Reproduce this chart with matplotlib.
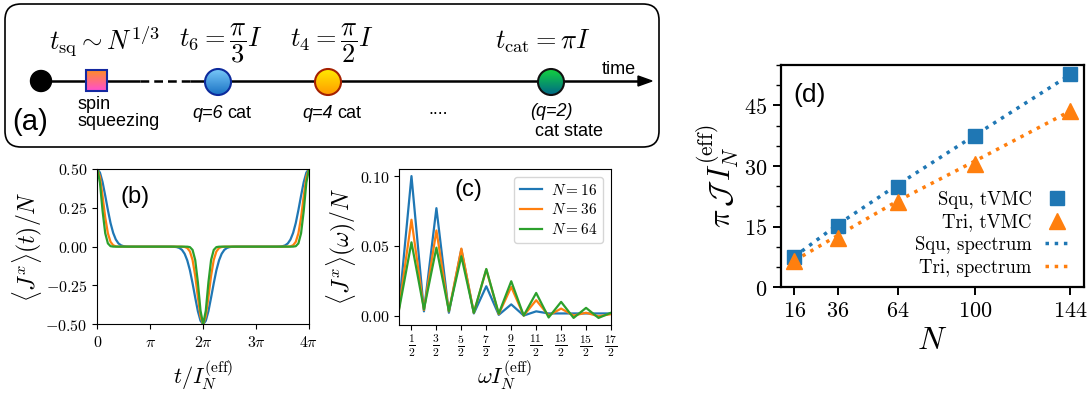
import numpy as np
import matplotlib
matplotlib.use("Agg")
import matplotlib.pyplot as plt
from matplotlib.patches import FancyBboxPatch, Circle, Rectangle, Polygon
from matplotlib.colors import LinearSegmentedColormap
from matplotlib.ticker import MultipleLocator

plt.rcParams['mathtext.fontset'] = 'cm'
plt.rcParams['font.family'] = ['DejaVu Serif']

W, H = 1089, 396

# ---------------- data ----------------
# panel (b): t in units of pi
t_b = [0, 0.05, 0.1, 0.15, 0.2, 0.25, 0.3, 0.35, 0.4, 0.45, 0.5, 0.55, 0.6,
       0.8, 1.0, 1.2,
       1.4, 1.45, 1.5, 1.55, 1.6, 1.65, 1.7, 1.75, 1.8, 1.85, 1.9, 1.95, 2.0,
       2.05, 2.1, 2.15, 2.2, 2.25, 2.3, 2.35, 2.4, 2.45, 2.5, 2.55, 2.6,
       2.8, 3.0, 3.2,
       3.4, 3.45, 3.5, 3.55, 3.6, 3.65, 3.7, 3.75, 3.8, 3.85, 3.9, 3.95, 4.0]
jx_t_16 = [0.5, 0.477, 0.415, 0.328, 0.236, 0.152, 0.0885, 0.0458, 0.0208, 0.0082, 0.0028, 0.0008, 0.0002,
           0, 0, 0,
           -0.0002, -0.0008, -0.0028, -0.0082, -0.0208, -0.0458, -0.0885, -0.152, -0.236, -0.328, -0.415, -0.477, -0.5,
           -0.477, -0.415, -0.328, -0.236, -0.152, -0.0885, -0.0458, -0.0208, -0.0082, -0.0028, -0.0008, -0.0002,
           0, 0, 0,
           0.0002, 0.0008, 0.0028, 0.0082, 0.0208, 0.0458, 0.0885, 0.152, 0.236, 0.328, 0.415, 0.477, 0.5]
jx_t_36 = [0.5, 0.449, 0.324, 0.188, 0.086, 0.031, 0.009, 0.002, 0.0003, 0, 0, 0, 0,
           0, 0, 0,
           0, 0, 0, 0, -0.0003, -0.002, -0.009, -0.031, -0.086, -0.188, -0.324, -0.449, -0.5,
           -0.449, -0.324, -0.188, -0.086, -0.031, -0.009, -0.002, -0.0003, 0, 0, 0, 0,
           0, 0, 0,
           0, 0, 0, 0, 0.0003, 0.002, 0.009, 0.031, 0.086, 0.188, 0.324, 0.449, 0.5]
jx_t_64 = [0.5, 0.412, 0.229, 0.086, 0.021, 0.003, 0.0003, 0, 0, 0, 0, 0, 0,
           0, 0, 0,
           0, 0, 0, 0, 0, 0, -0.0003, -0.003, -0.021, -0.086, -0.229, -0.412, -0.5,
           -0.412, -0.229, -0.086, -0.021, -0.003, -0.0003, 0, 0, 0, 0, 0, 0,
           0, 0, 0,
           0, 0, 0, 0, 0, 0, 0.0003, 0.003, 0.021, 0.086, 0.229, 0.412, 0.5]
t_ticks = [0, 1, 2, 3, 4]
t_ticklabels = ['$0$', r'$\pi$', r'$2\pi$', r'$3\pi$', r'$4\pi$']

# panel (c)
omega = [0, 0.5, 1.0, 1.5, 2.0, 2.5, 3.0, 3.5, 4.0, 4.5, 5.0, 5.5, 6.0, 6.5, 7.0, 7.5, 8.0, 8.5]
jx_w_16 = [0.006, 0.100, 0.003, 0.077, 0.002, 0.0475, 0.0015, 0.021, 0.0005, 0.008, 0.0, 0.003,
           0.0015, 0.0015, 0.0015, 0.0015, 0.0015, 0.0015]
jx_w_36 = [0.005, 0.0687, 0.004, 0.061, 0.003, 0.048, 0.002, 0.033, 0.001, 0.0205, 0.0, 0.011,
           0.0, 0.005, 0.0, 0.002, -0.0005, 0.001]
jx_w_64 = [0.004, 0.0525, 0.0045, 0.0487, 0.0033, 0.0425, 0.002, 0.0334, 0.0014, 0.0246, 0.0, 0.0162,
           -0.0014, 0.0098, -0.0017, 0.0055, -0.0017, 0.002]
w_ticks = [0.5, 1.5, 2.5, 3.5, 4.5, 5.5, 6.5, 7.5, 8.5]
w_ticklabels = [r'$\frac{1}{2}$', r'$\frac{3}{2}$', r'$\frac{5}{2}$', r'$\frac{7}{2}$', r'$\frac{9}{2}$',
                r'$\frac{11}{2}$', r'$\frac{13}{2}$', r'$\frac{15}{2}$', r'$\frac{17}{2}$']
series_labels = [r'$N=16$', r'$N=36$', r'$N=64$']

# panel (d)
N_vals = [16, 36, 64, 100, 144]
squ_tvmc = [7.4, 15.1, 24.7, 37.4, 52.8]
tri_tvmc = [6.4, 12.3, 21.0, 30.6, 43.6]
squ_spec = [7.6, 15.5, 25.4, 37.7, 52.6]
tri_spec = [6.6, 12.8, 21.4, 31.3, 43.6]
d_labels = ['Squ, tVMC', 'Tri, tVMC', 'Squ, spectrum', 'Tri, spectrum']

C_BLUE, C_ORANGE, C_GREEN = '#1f77b4', '#ff7f0e', '#2ca02c'

fig = plt.figure(figsize=(W / 100, H / 100), dpi=100)


def frac(x, y):
    return x / W, 1 - y / H


def axrect(l, r, t, b):
    return [l / W, 1 - b / H, (r - l) / W, (b - t) / H]


# ---------------- panel (a): schematic in pixel coordinates ----------------
ax0 = fig.add_axes([0, 0, 1, 1], zorder=-1)
ax0.set_axis_off()

box = FancyBboxPatch((5, 4), 654, 143, boxstyle='round,pad=0,rounding_size=16',
                     fc='white', ec='black', lw=1.2)
ax0.add_patch(box)

yl = 81
ax0.plot([41, 140], [yl, yl], color='black', lw=1.8, solid_capstyle='butt', zorder=2)
ax0.plot([140, 190], [yl, yl], color='black', lw=1.8, dashes=(3.5, 2), zorder=2)
ax0.plot([190, 640], [yl, yl], color='black', lw=1.8, solid_capstyle='butt', zorder=2)
ax0.add_patch(Polygon([[638, yl - 5], [652, yl], [638, yl + 5]], closed=True, fc='black', ec='black', zorder=3))


def grad_patch(patch, c_top, c_bot, extent):
    cmap = LinearSegmentedColormap.from_list('g', [c_top, c_bot])
    grad = np.linspace(0, 1, 64).reshape(-1, 1)
    im = ax0.imshow(grad, cmap=cmap, extent=extent, origin='upper', aspect='auto',
                    interpolation='bilinear', zorder=4)
    im.set_clip_path(patch)


ax0.add_patch(Circle((41, yl), 10.5, fc='black', ec='black', zorder=4))

sq = Rectangle((86, 70), 21, 21, fc='none', ec='#1428a0', lw=1.5, zorder=5)
ax0.add_patch(sq)
grad_patch(Rectangle((86, 70), 21, 21, transform=ax0.transData), '#ff8c28', '#ff4fd0', (86, 107, 91, 70))

for cx, ct, cb, ce in [(218, '#78c8f8', '#1a72c4', '#0c2a9c'),
                       (328, '#ffea00', '#ff9a00', '#a52000'),
                       (551, '#12d23e', '#006888', '#111111')]:
    c = Circle((cx, yl + 1), 13, fc='none', ec=ce, lw=1.5, zorder=5)
    ax0.add_patch(c)
    clip = Circle((cx, yl + 1), 13, transform=ax0.transData)
    grad_patch(clip, ct, cb, (cx - 13, cx + 13, yl + 14, yl - 12))

ax0.text(105, 41, r'$t_{\rm sq}\sim N^{1/3}$', fontsize=19, ha='center', va='center')
ax0.text(221, 43, r'$t_6=\dfrac{\pi}{3}I$', fontsize=19, ha='center', va='center')
ax0.text(332, 43, r'$t_4=\dfrac{\pi}{2}I$', fontsize=19, ha='center', va='center')
ax0.text(543, 41, r'$t_{\rm cat}=\pi I$', fontsize=19, ha='center', va='center')
sans = 'Liberation Sans'
fs_a = 13
ax0.text(619, 69, 'time', fontsize=13, family=sans, ha='center', va='center')
ax0.text(30, 122, '(a)', fontsize=21, family=sans, ha='center', va='center')
ax0.text(78, 113, 'spin\nsqueezing', fontsize=fs_a, family=sans, ha='left', va='center', linespacing=1.05)
ax0.text(223, 113, 'q=6', fontsize=fs_a, family=sans, style='italic', ha='right', va='center')
ax0.text(227, 113, 'cat', fontsize=fs_a, family=sans, ha='left', va='center')
ax0.text(333, 113, 'q=4', fontsize=fs_a, family=sans, style='italic', ha='right', va='center')
ax0.text(337, 113, 'cat', fontsize=fs_a, family=sans, ha='left', va='center')
ax0.text(438, 109, '....', fontsize=fs_a, family=sans, ha='center', va='center')
ax0.text(551, 112, '(q=2)', fontsize=fs_a, family=sans, style='italic', ha='center', va='center')
ax0.text(569, 132, 'cat state', fontsize=fs_a, family=sans, ha='center', va='center')

ax0.set_xlim(0, W)
ax0.set_ylim(H, 0)

# ---------------- panel (b) ----------------
axb = fig.add_axes(axrect(97.3, 309, 169, 324.3))
for y, c in [(jx_t_16, C_BLUE), (jx_t_36, C_ORANGE), (jx_t_64, C_GREEN)]:
    axb.plot(t_b, y, color=c, lw=1.6)
axb.set_xlim(0, 4)
axb.set_ylim(-0.5, 0.5)
axb.set_xticks(t_ticks)
axb.set_xticklabels(t_ticklabels)
axb.set_yticks([-0.5, -0.25, 0, 0.25, 0.5])
axb.set_yticklabels(['$-0.50$', '$-0.25$', '$0.00$', '$0.25$', '$0.50$'])
axb.tick_params(labelsize=11.5)
axb.set_xlabel(r'$t/I_N^{(\mathrm{eff})}$', fontsize=16)
axb.xaxis.set_label_coords(0.5, -0.215)
axb.set_ylabel(r'$\langle J^x\rangle(t)/N$', fontsize=17, labelpad=1)

# ---------------- panel (c) ----------------
axc = fig.add_axes(axrect(399, 611, 169, 325))
for y, c, lab in [(jx_w_16, C_BLUE, series_labels[0]), (jx_w_36, C_ORANGE, series_labels[1]),
                  (jx_w_64, C_GREEN, series_labels[2])]:
    axc.plot(omega, y, color=c, lw=1.6, label=lab)
axc.set_xlim(0, 8.5)
axc.set_xticks(w_ticks)
axc.set_xticklabels(w_ticklabels)
axc.set_yticks([0, 0.05, 0.10])
axc.set_yticklabels(['$0.00$', '$0.05$', '$0.10$'])
axc.tick_params(axis='y', labelsize=11.5)
axc.tick_params(axis='x', labelsize=12, pad=2)
axc.set_xlabel(r'$\omega I_N^{(\mathrm{eff})}$', fontsize=16)
axc.xaxis.set_label_coords(0.5, -0.215)
axc.set_ylabel(r'$\langle J^x\rangle(\omega)/N$', fontsize=17, labelpad=1)
axc.legend(loc='upper right', fontsize=11, handlelength=1.4, labelspacing=0.3,
           borderpad=0.4, handletextpad=0.6, framealpha=0.8)

# ---------------- panel (d) ----------------
axd = fig.add_axes(axrect(780.7, 1084, 65, 287.3))
axd.plot(N_vals, squ_tvmc, ls='none', marker='s', ms=10, color=C_BLUE, label=d_labels[0], zorder=3)
axd.plot(N_vals, tri_tvmc, ls='none', marker='^', ms=11, color=C_ORANGE, label=d_labels[1], zorder=3)
axd.plot(N_vals, squ_spec, ls=':', lw=2.5, color=C_BLUE, label=d_labels[2], zorder=2)
axd.plot(N_vals, tri_spec, ls=':', lw=2.5, color=C_ORANGE, label=d_labels[3], zorder=2)
axd.set_ylim(0, 55)
axd.set_xticks(N_vals)
axd.set_xticklabels([f'${n}$' for n in N_vals])
axd.set_yticks([0, 15, 30, 45])
axd.set_yticklabels(['$0$', '$15$', '$30$', '$45$'])
axd.yaxis.set_minor_locator(MultipleLocator(5))
axd.tick_params(labelsize=16, width=1.4, length=6)
axd.tick_params(which='minor', width=1.0, length=3.5)
for s in axd.spines.values():
    s.set_linewidth(1.6)
axd.set_xlabel(r'$N$', fontsize=23, labelpad=2)
axd.set_ylabel(r'$\pi\,\mathcal{J}\,I_N^{(\mathrm{eff})}$', fontsize=22, labelpad=2)
axd.legend(loc='lower right', markerfirst=False, frameon=False,
           prop={'family': 'cmr10', 'size': 13.5},
           handlelength=1.3, labelspacing=0.25, handletextpad=0.7,
           bbox_to_anchor=(1.0, -0.02), borderaxespad=0.4)

fig.text(*frac(120, 197), '(b)', fontsize=17, family=sans, ha='left', va='center')
fig.text(*frac(455, 190), '(c)', fontsize=17, family=sans, ha='left', va='center')
fig.text(*frac(793, 95), '(d)', fontsize=19, family=sans, ha='left', va='center')

fig.savefig('out.png', dpi=100)
